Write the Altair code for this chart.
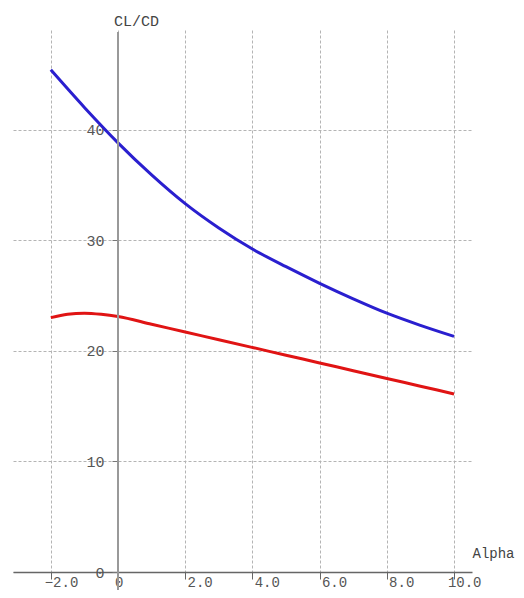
import altair as alt
import pandas as pd

# Data
alpha_blue = [-2, -1, 0, 1, 2, 3, 4, 5, 6, 7, 8, 9, 10]
clcd_blue = [45.4, 42.0, 38.8, 35.9, 33.3, 31.1, 29.2, 27.6, 26.1, 24.7, 23.4, 22.3, 21.3]

alpha_red = [-2, -1.5, -1, -0.5, 0, 1, 2, 3, 4, 5, 6, 7, 8, 9, 10]
clcd_red = [23.0, 23.3, 23.4, 23.3, 23.1, 22.4, 21.7, 21.0, 20.3, 19.6, 18.9, 18.2, 17.5, 16.8, 16.1]

x_ticks = [-2, 0, 2, 4, 6, 8, 10]
y_ticks = [0, 10, 20, 30, 40]

df = pd.concat([
    pd.DataFrame({"alpha": alpha_blue, "clcd": clcd_blue, "series": "A"}),
    pd.DataFrame({"alpha": alpha_red, "clcd": clcd_red, "series": "B"}),
])

FONT = "Liberation Mono"
W, H = 459, 542
GRID = "#b4b4b4"

x_scale = alt.Scale(domain=[-3.125, 10.535], nice=False, zero=False)
y_scale = alt.Scale(domain=[0, 49], nice=False, zero=False)

x_axis = alt.Axis(
    values=x_ticks,
    labelExpr="datum.value == 0 ? '0' : format(datum.value, '.1f')",
    grid=True, gridColor=GRID, gridDash=[3, 2], gridWidth=1,
    domainColor="#666666", domainWidth=1.5,
    tickColor="#666666", tickSize=7, tickWidth=1,
    labelFont=FONT, labelFontSize=14, labelColor="#555555",
    labelAlign="right", labelBaseline="top",
    labelOffset={"condition": {"test": "datum.value == 0", "value": 5}, "value": 27},
    labelPadding=-4,
    title="Alpha", titleFont=FONT, titleFontSize=14, titleFontWeight="normal",
    titleColor="#444444", titleAlign="left", titleBaseline="middle",
    titleX=459, titleY=-19, titleAngle=0,
)

y_axis = alt.Axis(
    values=y_ticks,
    offset=-105,
    grid=True, gridColor=GRID, gridDash=[3, 2], gridWidth=1,
    domain=False,
    tickColor="#777777", tickSize=6, tickWidth=1,
    labelFont=FONT, labelFontSize=15, labelColor="#555555",
    labelPadding=8, labelBaseline="middle",
    title="CL/CD", titleFont=FONT, titleFontSize=15, titleFontWeight="normal",
    titleColor="#444444", titleAngle=0, titleAlign="center", titleBaseline="middle",
    titleX=18, titleY=-10,
)

lines = alt.Chart(df).mark_line(strokeWidth=3, interpolate="monotone").encode(
    x=alt.X("alpha:Q", scale=x_scale, axis=x_axis),
    y=alt.Y("clcd:Q", scale=y_scale, axis=y_axis),
    color=alt.Color("series:N", scale=alt.Scale(domain=["A", "B"], range=["#2a1fcf", "#e01414"]), legend=None),
)

yline = alt.Chart(pd.DataFrame({"x0": [0]})).mark_rule(color="#999999", strokeWidth=2).encode(
    x=alt.X("x0:Q", scale=x_scale),
    y=alt.value(2),
    y2=alt.value(H + 18),
)

chart = alt.layer(lines, yline).properties(
    width=W, height=H,
    background="white",
    autosize=alt.AutoSizeParams(type="none"),
    padding={"left": 5, "top": 22, "right": 44, "bottom": 18},
).configure_view(stroke=None, strokeWidth=0)

chart.save("out.html", embed_options={"renderer": "svg", "actions": False})
